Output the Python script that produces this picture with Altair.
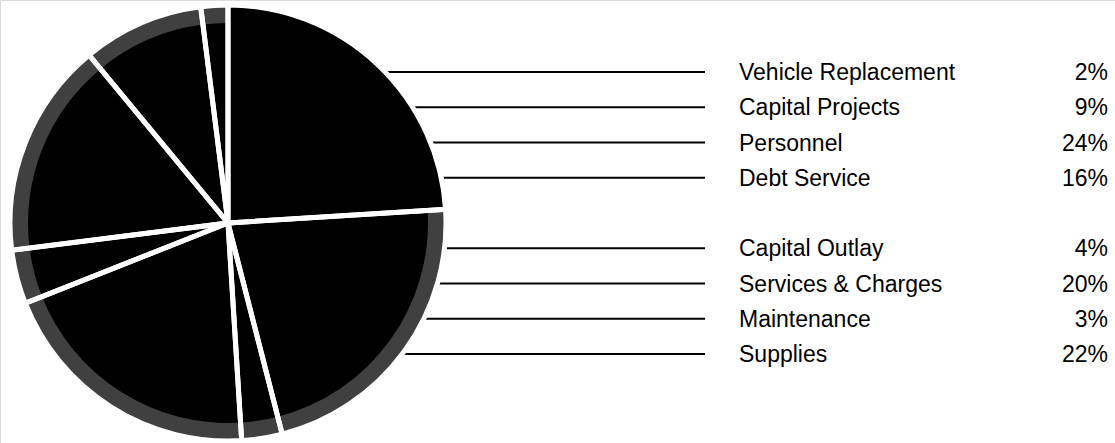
import altair as alt
import pandas as pd

labels = ["Vehicle Replacement", "Capital Projects", "Personnel", "Debt Service",
          "Capital Outlay", "Services & Charges", "Maintenance", "Supplies"]
pcts = [2, 9, 24, 16, 4, 20, 3, 22]
rows = [0, 1, 2, 3, 5, 6, 7, 8]
# clockwise order of slices starting at 12 o'clock
pie_order = [8, 7, 1, 6, 5, 4, 3, 2]

df = pd.DataFrame({"label": labels, "pct": pcts, "row": rows, "ord": pie_order})

CX, CY, R = 228, 223, 218
FONT = "Liberation Sans"
FS = 23

yscale = alt.Scale(domain=[0, 8], range=[72, 354])

base = alt.Chart(df)

leaders = base.mark_rule(color="black", strokeWidth=1.8).encode(
    x=alt.value(CX), x2=alt.value(705),
    y=alt.Y("row:Q", scale=yscale, axis=None),
)

pie_common = dict(
    theta=alt.Theta("pct:Q", stack=True),
    order=alt.Order("ord:Q"),
    x=alt.value(CX), y=alt.value(CY),
)

rim = base.mark_arc(radius=R, innerRadius=0, strokeWidth=0).encode(
    color=alt.condition(alt.datum.label == "Personnel", alt.value("#000000"), alt.value("#404040")),
    **pie_common,
)
core = base.mark_arc(radius=R - 18, innerRadius=0, color="#000000", strokeWidth=0).encode(**pie_common)
seps = base.mark_arc(radius=R, innerRadius=0, fillOpacity=0, fill="#000000",
                     stroke="white", strokeWidth=5).encode(**pie_common)

names = base.mark_text(align="left", baseline="middle", font=FONT, fontSize=FS, color="black", dy=1).encode(
    x=alt.value(739),
    y=alt.Y("row:Q", scale=yscale, axis=None),
    text="label:N",
)
pct_text = base.transform_calculate(ptxt="datum.pct + '%'").mark_text(
    align="right", baseline="middle", font=FONT, fontSize=FS, color="black", dy=1).encode(
    x=alt.value(1108),
    y=alt.Y("row:Q", scale=yscale, axis=None),
    text="ptxt:N",
)

chart = alt.layer(leaders, rim, core, seps, names, pct_text).properties(
    width=1115, height=443, autosize="none", padding=0
).configure_view(stroke=None).configure(background="white")

chart.save("out.html", embed_options={"renderer": "svg", "actions": False})
